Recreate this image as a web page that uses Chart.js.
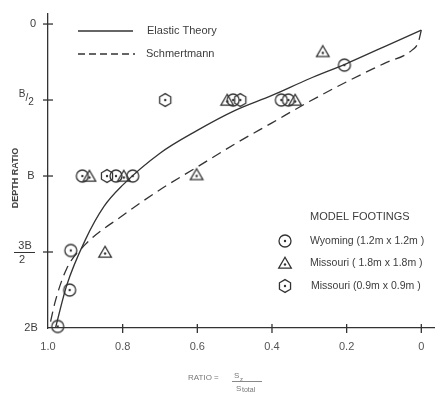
<!DOCTYPE html>
<html><head><meta charset="utf-8">
<script src="https://cdn.jsdelivr.net/npm/chart.js@4/dist/chart.umd.min.js"></script>
<style>html,body{margin:0;padding:0;background:#fff;}canvas{display:block;}</style>
</head><body>
<canvas id="c" width="439" height="393"></canvas>
<script>
// ---- data ----
const xTicks = [1.0, 0.8, 0.6, 0.4, 0.2, 0];
const xTickLabels = ["1.0", "0.8", "0.6", "0.4", "0.2", "0"];
const yTicks = [0, 0.5, 1, 1.5, 2];
const yTickLabels = ["0", "B/2", "B", "3B/2", "2B"];
const seriesNames = ["Elastic Theory", "Schmertmann", "Wyoming (1.2m x 1.2m )", "Missouri ( 1.8m x 1.8m )", "Missouri (0.9m x 0.9m )"];
const elasticX = [0, 0.1, 0.2, 0.3, 0.4, 0.5, 0.6, 0.7, 0.8, 0.85, 0.9, 0.95, 0.98];
const elasticY = [0.04, 0.15, 0.26, 0.36, 0.47, 0.57, 0.70, 0.85, 1.06, 1.20, 1.42, 1.72, 2.0];
const schmX = [0, 0.008, 0.024, 0.1, 0.2, 0.3, 0.4, 0.5, 0.6, 0.7, 0.8, 0.9, 0.95, 0.98, 0.997];
const schmY = [0.04, 0.12, 0.17, 0.26, 0.38, 0.51, 0.65, 0.79, 0.94, 1.09, 1.26, 1.45, 1.61, 1.82, 2.0];
const wyomingX = [0.974, 0.942, 0.939, 0.908, 0.818, 0.773, 0.504, 0.375, 0.356, 0.206];
const wyomingY = [1.99, 1.75, 1.49, 1.0, 1.0, 1.0, 0.5, 0.5, 0.5, 0.27];
const mo18X = [0.264, 0.889, 0.797, 0.520, 0.338, 0.602, 0.847];
const mo18Y = [0.18, 1.0, 1.0, 0.5, 0.5, 0.99, 1.5];
const mo09X = [0.686, 0.842, 0.485];
const mo09Y = [0.5, 1.0, 0.5];

const INK = '#333';
const TXT = '#3c3c3c';
const FONT = '"Liberation Sans", Arial, sans-serif';

function pts(xs, ys) { return xs.map((x, i) => ({x: x, y: ys[i]})); }

function makeMarker(kind) {
  const c = document.createElement('canvas');
  c.width = 16; c.height = 16;
  const g = c.getContext('2d');
  g.strokeStyle = INK; g.fillStyle = INK; g.lineWidth = 1.3;
  g.beginPath();
  if (kind === 'circle') {
    g.arc(8, 8, 6, 0, Math.PI * 2);
  } else if (kind === 'triangle') {
    g.moveTo(8, 2.2); g.lineTo(14.3, 13.2); g.lineTo(1.7, 13.2); g.closePath();
  } else {
    for (let i = 0; i < 6; i++) {
      const a = Math.PI / 2 + i * Math.PI / 3;
      const px = 8 + 6.4 * Math.cos(a), py = 8 + 6.4 * Math.sin(a);
      if (i === 0) g.moveTo(px, py); else g.lineTo(px, py);
    }
    g.closePath();
  }
  g.stroke();
  g.beginPath();
  g.arc(8, kind === 'triangle' ? 9.5 : 8, 1.2, 0, Math.PI * 2);
  g.fill();
  return c;
}
const mCircle = makeMarker('circle');
const mTri = makeMarker('triangle');
const mHex = makeMarker('hex');

const decor = {
  id: 'decor',
  afterDraw(chart) {
    const ctx = chart.ctx;
    const xs = chart.scales.x, ys = chart.scales.y;
    const axX = xs.left, axY = ys.bottom;
    ctx.save();
    ctx.strokeStyle = INK; ctx.lineWidth = 1.3;
    // crossing tick marks
    xTicks.forEach(v => {
      if (v === 1.0) return;
      const p = xs.getPixelForValue(v);
      ctx.beginPath(); ctx.moveTo(p, axY - 4); ctx.lineTo(p, axY + 5); ctx.stroke();
    });
    yTicks.forEach(v => {
      if (v === 2) return;
      const p = ys.getPixelForValue(v);
      ctx.beginPath(); ctx.moveTo(axX - 5, p); ctx.lineTo(axX + 5, p); ctx.stroke();
    });
    // y tick labels
    ctx.fillStyle = TXT; ctx.textBaseline = 'middle'; ctx.textAlign = 'center';
    ctx.font = '11px ' + FONT;
    let p = ys.getPixelForValue(yTicks[0]);
    ctx.fillText(yTickLabels[0], 33, p);
    p = ys.getPixelForValue(yTicks[1]);
    ctx.font = '10px ' + FONT;
    ctx.fillText('B', 22, p - 6);
    ctx.fillText('/', 27, p - 2);
    ctx.fillText('2', 31, p + 2);
    ctx.font = '11px ' + FONT;
    p = ys.getPixelForValue(yTicks[2]);
    ctx.fillText(yTickLabels[2], 31, p);
    p = ys.getPixelForValue(yTicks[3]);
    ctx.fillText('3B', 25, p - 6);
    ctx.beginPath(); ctx.lineWidth = 1; ctx.moveTo(14, p + 0.5); ctx.lineTo(35, p + 0.5); ctx.stroke();
    ctx.fillText('2', 22, p + 8);
    p = ys.getPixelForValue(yTicks[4]);
    ctx.fillText(yTickLabels[4], 31, p);
    // y title
    ctx.save();
    ctx.translate(16, 178); ctx.rotate(-Math.PI / 2);
    ctx.font = 'bold 9px ' + FONT; ctx.fillStyle = '#444';
    ctx.fillText('DEPTH RATIO', 0, 0);
    ctx.restore();
    // x title
    ctx.fillStyle = '#777'; ctx.textAlign = 'left';
    ctx.font = '8px ' + FONT;
    ctx.fillText('RATIO =', 188, 378);
    ctx.fillText('S', 234, 376);
    ctx.font = '6px ' + FONT; ctx.fillText('z', 240, 379);
    ctx.strokeStyle = '#888'; ctx.lineWidth = 1;
    ctx.beginPath(); ctx.moveTo(232, 381.5); ctx.lineTo(262, 381.5); ctx.stroke();
    ctx.font = '8px ' + FONT; ctx.fillText('S', 236, 389);
    ctx.font = '7px ' + FONT; ctx.fillText('total', 242, 390);
    // top legend
    ctx.strokeStyle = INK; ctx.lineWidth = 1.3;
    ctx.beginPath(); ctx.moveTo(78, 31); ctx.lineTo(133, 31); ctx.stroke();
    ctx.setLineDash([7, 4]);
    ctx.beginPath(); ctx.moveTo(78, 54); ctx.lineTo(135, 54); ctx.stroke();
    ctx.setLineDash([]);
    ctx.fillStyle = TXT; ctx.font = '11px ' + FONT;
    ctx.fillText(seriesNames[0], 147, 31);
    ctx.fillText(seriesNames[1], 146, 54);
    // bottom legend
    ctx.fillText('MODEL FOOTINGS', 310, 217);
    ctx.font = '10.5px ' + FONT;
    ctx.drawImage(mCircle, 285 - 8, 241 - 8);
    ctx.fillText(seriesNames[2], 310, 241);
    ctx.drawImage(mTri, 285 - 8, 263 - 8);
    ctx.fillText(seriesNames[3], 310, 263);
    ctx.drawImage(mHex, 285 - 8, 286 - 8);
    ctx.fillText(seriesNames[4], 311, 286);
    ctx.restore();
  }
};

new Chart(document.getElementById('c'), {
  type: 'scatter',
  data: {
    datasets: [
      {label: seriesNames[0], data: pts(elasticX, elasticY), showLine: true, borderColor: INK, borderWidth: 1.3,
       pointRadius: 0, cubicInterpolationMode: 'monotone', clip: false},
      {label: seriesNames[1], data: pts(schmX, schmY), showLine: true, borderColor: INK, borderWidth: 1.3,
       borderDash: [10, 6], pointRadius: 0, cubicInterpolationMode: 'monotone', clip: false},
      {label: seriesNames[2], data: pts(wyomingX, wyomingY), pointStyle: mCircle, clip: false},
      {label: seriesNames[3], data: pts(mo18X, mo18Y), pointStyle: mTri, clip: false},
      {label: seriesNames[4], data: pts(mo09X, mo09Y), pointStyle: mHex, clip: false}
    ]
  },
  options: {
    responsive: false, animation: false, devicePixelRatio: 1,
    layout: {padding: {top: 14, right: 0, left: 0, bottom: 0}},
    plugins: {legend: {display: false}, tooltip: {enabled: false}},
    scales: {
      x: {
        type: 'linear', reverse: true, min: -0.034, max: 1.0,
        afterBuildTicks: s => { s.ticks = xTicks.map(v => ({value: v})); },
        afterFit: s => { s.height = 65; },
        grid: {drawOnChartArea: false, drawTicks: false},
        border: {display: true, color: INK, width: 1.3},
        ticks: {padding: 12, color: '#555', font: {size: 11, family: FONT},
          callback: (v) => { const i = xTicks.findIndex(t => Math.abs(t - v) < 1e-9); return i >= 0 ? xTickLabels[i] : ''; },
          maxRotation: 0, autoSkip: false}
      },
      y: {
        type: 'linear', reverse: true, min: -0.066, max: 2.0,
        afterBuildTicks: s => { s.ticks = yTicks.map(v => ({value: v})); },
        afterFit: s => { s.width = 48; },
        grid: {drawOnChartArea: false, drawTicks: false},
        border: {display: true, color: INK, width: 1.3},
        ticks: {display: false}
      }
    }
  },
  plugins: [decor]
});
</script>
</body></html>
